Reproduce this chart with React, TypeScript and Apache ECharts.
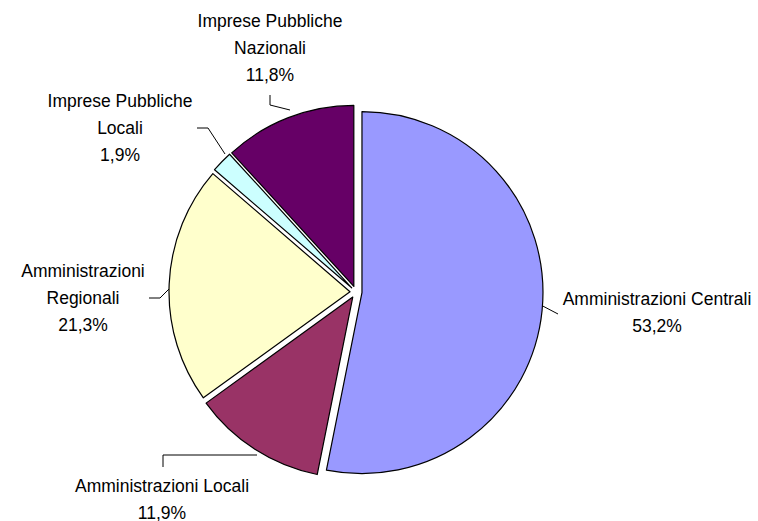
import React, { useEffect, useRef } from "react";
import * as echarts from "echarts";

const categories = [
  "Amministrazioni Centrali",
  "Amministrazioni Locali",
  "Amministrazioni Regionali",
  "Imprese Pubbliche Locali",
  "Imprese Pubbliche Nazionali",
];
const labelNames = [
  "Amministrazioni Centrali",
  "Amministrazioni Locali",
  "Amministrazioni\nRegionali",
  "Imprese Pubbliche\nLocali",
  "Imprese Pubbliche\nNazionali",
];
const values = [53.2, 11.9, 21.3, 1.9, 11.8];
const colors = ["#9999FF", "#993366", "#FFFFCC", "#CCFFFF", "#660066"];

// label block centres and leader lines (layout only)
const labelPos: [number, number][] = [
  [657, 312],
  [162, 499],
  [83, 298],
  [120, 128],
  [270, 48],
];
const leaderLines: [number, number][][] = [
  [[537, 303], [558, 314]],
  [[257, 455], [163, 455], [163, 467]],
  [[173, 285], [160, 298], [149, 298]],
  [[225, 154], [208, 128], [197, 128]],
  [[290, 110], [270, 105], [270, 95]],
];

const FONT = "'Liberation Sans', Arial, sans-serif";

export default function App() {
  const ref = useRef<HTMLDivElement>(null);
  useEffect(() => {
    if (!ref.current) return;
    const chart = echarts.init(ref.current, undefined, { renderer: "svg" });
    const fmt = (v: number) => v.toFixed(1).replace(".", ",") + "%";
    const graphics: any[] = [];
    categories.forEach((_, i) => {
      graphics.push({
        type: "polyline",
        silent: true,
        shape: { points: leaderLines[i] },
        style: { stroke: "#000000", lineWidth: 1, fill: null },
      });
      graphics.push({
        type: "text",
        silent: true,
        x: labelPos[i][0],
        y: labelPos[i][1],
        style: {
          text: labelNames[i] + "\n" + fmt(values[i]),
          font: `17.5px ${FONT}`,
          fontFamily: FONT,
          fontSize: 17.5,
          lineHeight: 27,
          fill: "#000000",
          align: "center",
          verticalAlign: "middle",
        },
      });
    });
    chart.setOption({
      animation: false,
      backgroundColor: "#ffffff",
      graphic: graphics,
      series: [
        {
          type: "pie",
          center: [356, 292],
          radius: 181,
          startAngle: 90,
          clockwise: true,
          silent: true,
          selectedMode: "multiple",
          selectedOffset: 6,
          emphasis: { disabled: true, scale: false },
          itemStyle: { borderColor: "#000000", borderWidth: 1.2 },
          select: { itemStyle: { borderColor: "#000000", borderWidth: 1.2 } },
          label: { show: false },
          labelLine: { show: false },
          data: categories.map((c, i) => ({
            name: c,
            value: values[i],
            selected: true,
            itemStyle: { color: colors[i] },
          })),
        },
      ],
    });
    return () => chart.dispose();
  }, []);
  return (
    <div
      ref={ref}
      style={{ position: "absolute", left: 0, top: 0, width: 758, height: 521 }}
    />
  );
}
